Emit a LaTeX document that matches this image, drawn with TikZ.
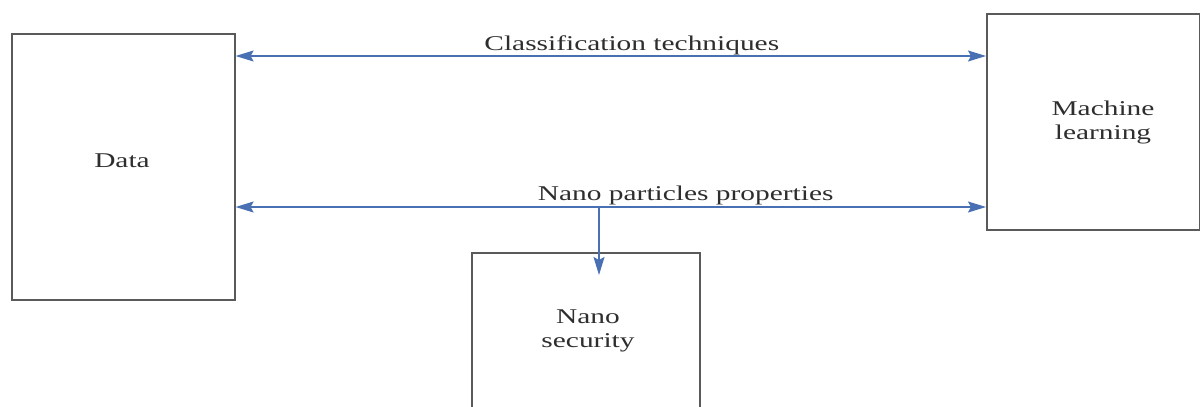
\documentclass[tikz,border=0pt]{standalone}
\usepackage{fontspec}
\setmainfont{Liberation Serif}
\usetikzlibrary{arrows.meta}
\definecolor{boxgray}{HTML}{5A5A5A}
\definecolor{linkblue}{HTML}{4A70B4}
\definecolor{inkgray}{HTML}{2E2E2E}
\tikzset{
  block/.style={draw=boxgray, line width=1.6pt, fill=white, inner sep=0pt, anchor=north west},
  label/.style={text=inkgray, font=\fontsize{21}{23.5}\selectfont, xscale=1.4, inner sep=0pt, align=center, anchor=base},
  link/.style={draw=linkblue, line width=1.4pt},
  tip/.style={-{Stealth[length=18pt,width=11pt,inset=3pt]}},
  tips/.style={{Stealth[length=18pt,width=11pt,inset=3pt]}-{Stealth[length=18pt,width=11pt,inset=3pt]}}
}
\begin{document}
\begin{tikzpicture}[x=1pt,y=-1pt]
  \useasboundingbox (0,0) rectangle (1200,407);
  % the three blocks
  \node[block, minimum width=223pt, minimum height=266pt] (data) at (11,33) {};
  \node[block, minimum width=213pt, minimum height=216pt] (ml) at (986,13) {};
  \node[block, minimum width=228pt, minimum height=200pt] (nano) at (471,252) {};
  % block captions (base anchor sits on the last line)
  \node[label] (datatxt) at (122,167) {Data};
  \node[label] (mltxt) at (1103,139) {Machine\\learning};
  \node[label] (nanotxt) at (588,347) {Nano\\security};
  % link rows
  \coordinate (toprow) at (600,56);
  \coordinate (lowrow) at (600,207);
  \coordinate (split) at (599,207);
  \coordinate (drop) at (599,275);
  \draw[link, tips] (data.east |- toprow) -- (ml.west |- toprow)
    node[label, pos=0.5, xshift=15pt, yshift=6pt] (ctxt) {Classification techniques};
  \draw[link, tips] (data.east |- lowrow) -- (ml.west |- lowrow)
    node[label, pos=0.5, xshift=53.5pt, yshift=7pt] (ptxt) {Nano particles properties};
  \draw[link, tip] (split) -- (drop);
\end{tikzpicture}
\end{document}
